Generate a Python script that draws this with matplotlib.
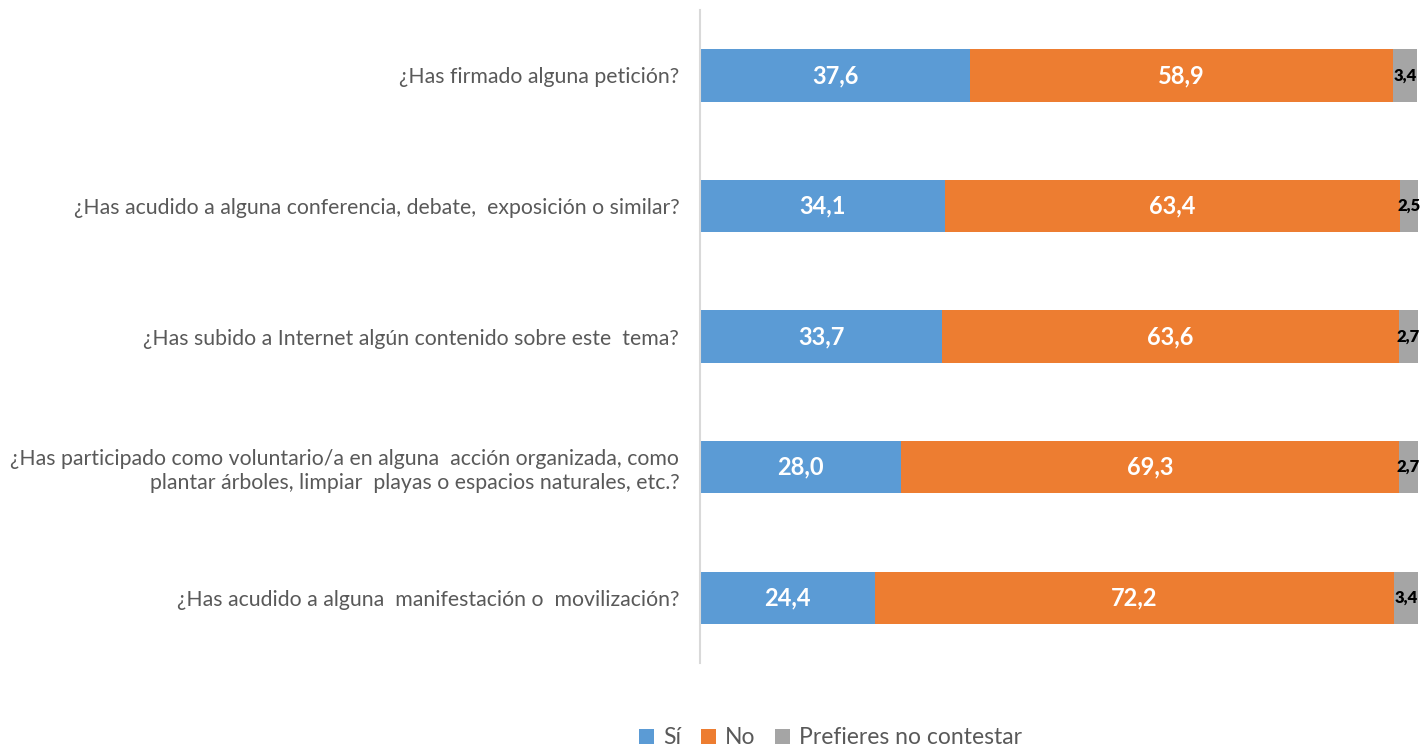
import matplotlib.pyplot as plt
import numpy as np

questions = [
    "¿Has firmado alguna petición?",
    "¿Has acudido a alguna conferencia, debate,  exposición o similar?",
    "¿Has subido a Internet algún contenido sobre este  tema?",
    "¿Has participado como voluntario/a en alguna  acción organizada, como\nplantar árboles, limpiar  playas o espacios naturales, etc.?",
    "¿Has acudido a alguna  manifestación o  movilización?",
]
si = [37.6, 34.1, 33.7, 28.0, 24.4]
no = [58.9, 63.4, 63.6, 69.3, 72.2]
nc = [3.4, 2.5, 2.7, 2.7, 3.4]
series_names = ["Sí", "No", "Prefieres no contestar"]

plt.rcParams['font.family'] = ['Lato', 'DejaVu Sans']
colors = ["#5b9bd5", "#ed7d31", "#a5a5a5"]

fig = plt.figure(figsize=(14.22, 7.53), dpi=100)
ax = fig.add_axes([0.4923, 0.1195, 0.505, 0.867])

y = np.arange(len(questions))
left = np.zeros(len(questions))
bars = []
for vals, c, name in zip([si, no, nc], colors, series_names):
    b = ax.barh(y, vals, left=left, height=0.4, color=c, label=name)
    bars.append(b)
    left += np.array(vals)

def fmt(v):
    return f"{v:.1f}".replace(".", ",")

for i in range(len(questions)):
    ax.text(si[i] / 2, y[i], fmt(si[i]), ha="center", va="center",
            color="white", fontsize=17, fontweight="bold")
    ax.text(si[i] + no[i] / 2, y[i], fmt(no[i]), ha="center", va="center",
            color="white", fontsize=17, fontweight="bold")
    ax.text(si[i] + no[i] + nc[i] / 2, y[i], fmt(nc[i]), ha="center", va="center",
            color="black", fontsize=12, fontweight="heavy")

ax.set_xlim(0, 100)
ax.set_ylim(len(questions) - 0.5, -0.5)
ax.set_yticks(y)
ax.set_yticklabels(questions, fontsize=15.3, color="#595959", ha="right",
                   linespacing=1.25)
ax.tick_params(axis="y", length=0, pad=15)
ax.set_xticks([])
for s in ["top", "right", "bottom"]:
    ax.spines[s].set_visible(False)
ax.spines["left"].set_color("#d9d9d9")
ax.spines["left"].set_linewidth(1.5)

fig.legend(handles=bars, labels=series_names, loc="center",
           bbox_to_anchor=(0.584, 0.02), ncol=3, frameon=False, fontsize=16.5,
           labelcolor="#595959", handlelength=0.65, handleheight=0.65,
           handletextpad=0.4, columnspacing=0.85, borderpad=0.1)

fig.savefig("out.png", dpi=100)
